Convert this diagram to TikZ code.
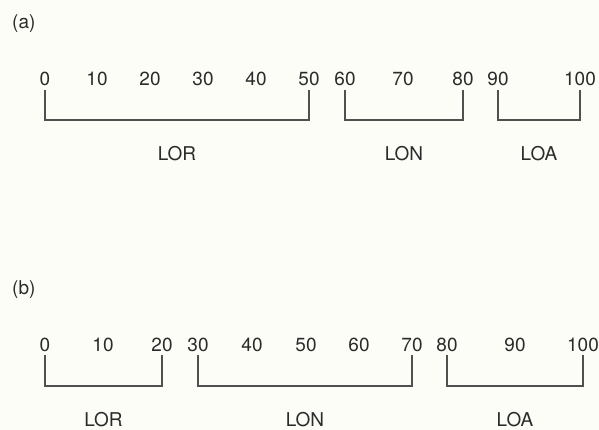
\documentclass[tikz,border=0pt]{standalone}
\usepackage{fontspec}
\setmainfont{TeX Gyre Heros}
\usetikzlibrary{calc}
\definecolor{txt}{HTML}{2B2B2B}
\definecolor{ln}{HTML}{505050}
\definecolor{bg}{HTML}{FDFDF8}
\begin{document}
\begin{tikzpicture}[x=1pt,y=-1pt,
  num/.style={font=\fontsize{19}{22}\selectfont, text=txt, inner sep=0pt, anchor=base},
  lab/.style={font=\fontsize{19}{22}\selectfont, text=txt, inner sep=0pt, anchor=base},
  brk/.style={draw=ln, line width=1.2pt}]
\fill[bg] (0,0) rectangle (599,430);
\useasboundingbox (0,0) rectangle (599,430);
% panel (a)
\node[lab, anchor=base west] (pa) at (12,29) {(a)};
\foreach \v/\x in {0/45,10/97,20/150,30/203,40/256,50/309,60/345,70/403,80/463,90/498,100/580}
  \node[num] (a\v) at (\x,85.5) {\v};
\draw[brk] ([yshift=-4.5pt]a0.base) -- ++(0,30) -| ([yshift=-4.5pt]a50.base);
\draw[brk] ([yshift=-4.5pt]a60.base) -- ++(0,30) -| ([yshift=-4.5pt]a80.base);
\draw[brk] ([yshift=-4.5pt]a90.base) -- ++(0,30) -| ([yshift=-4.5pt]a100.base);
\node[lab] (aLOR) at ($(a0.base)!.5!(a50.base)+(0,75.5)$) {LOR};
\node[lab] (aLON) at ($(a60.base)!.5!(a80.base)+(0,75.5)$) {LON};
\node[lab] (aLOA) at ($(a90.base)!.5!(a100.base)+(0,75.5)$) {LOA};
% panel (b)
\node[lab, anchor=base west] (pb) at (12,294) {(b)};
\foreach \v/\x in {0/45,10/103,20/162,30/198,40/252,50/306,60/359,70/412,80/447,90/515,100/583}
  \node[num] (b\v) at (\x,351) {\v};
\draw[brk] ([yshift=-4pt]b0.base) -- ++(0,31) -| ([yshift=-4pt]b20.base);
\draw[brk] ([yshift=-4pt]b30.base) -- ++(0,31) -| ([yshift=-4pt]b70.base);
\draw[brk] ([yshift=-4pt]b80.base) -- ++(0,31) -| ([yshift=-4pt]b100.base);
\node[lab] (bLOR) at ($(b0.base)!.5!(b20.base)+(0,75)$) {LOR};
\node[lab] (bLON) at ($(b30.base)!.5!(b70.base)+(0,75)$) {LON};
\node[lab] (bLOA) at ($(b80.base)!.5!(b100.base)+(0,75)$) {LOA};
\end{tikzpicture}
\end{document}
